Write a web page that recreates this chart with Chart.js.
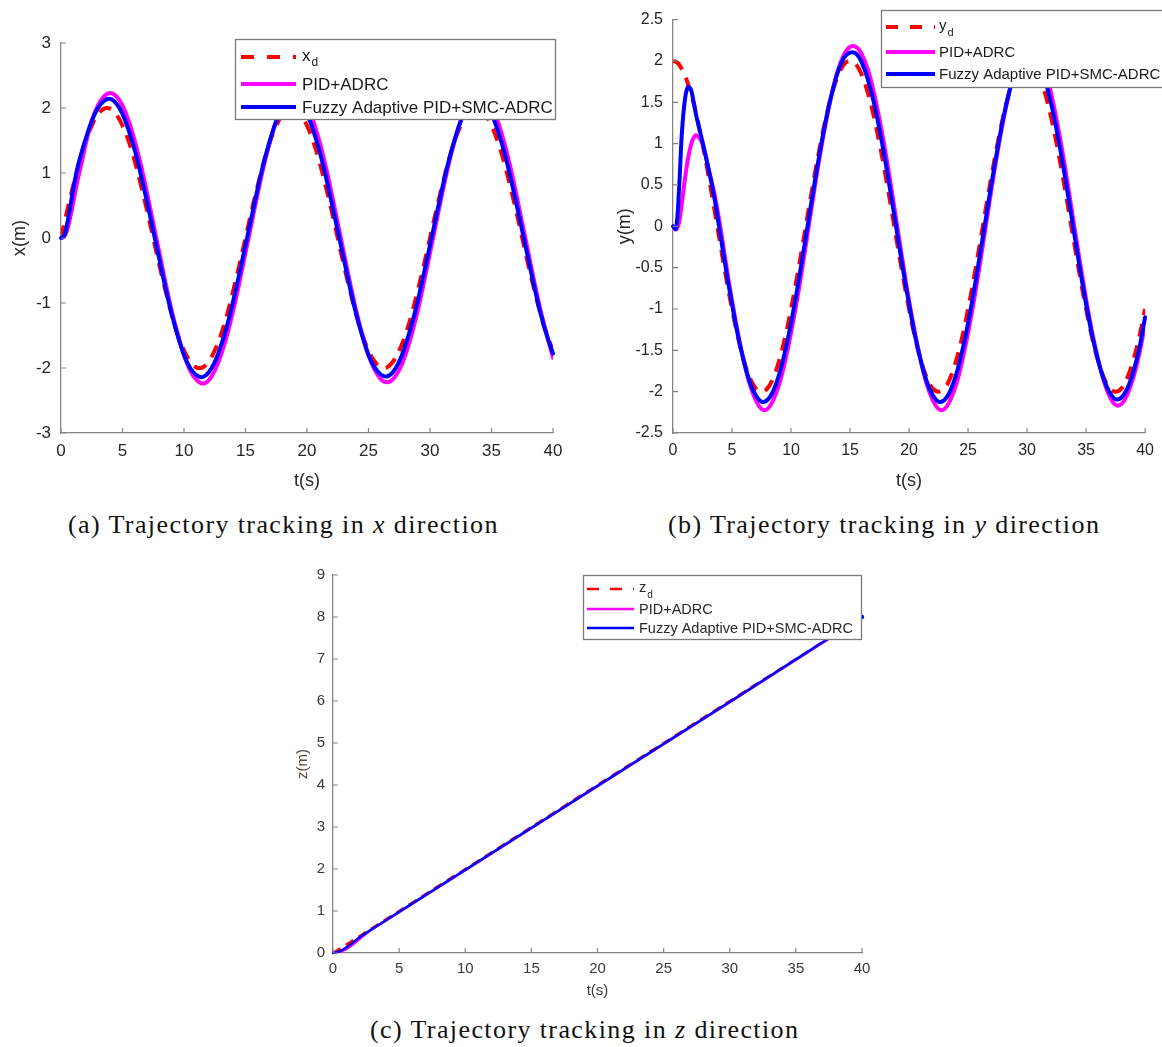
<!DOCTYPE html>
<html><head><meta charset="utf-8">
<script src="https://cdn.jsdelivr.net/npm/chart.js@4.4.0/dist/chart.umd.min.js"></script>
<style>
html,body{margin:0;padding:0;background:#fff;}
body{width:1162px;height:1047px;position:relative;overflow:hidden;}
canvas{position:absolute;display:block;}
.cap{position:absolute;font-family:"Liberation Serif","Times New Roman",serif;font-size:26px;line-height:30px;color:#111;white-space:nowrap;letter-spacing:1.4px;}
</style></head><body>
<canvas id="ca" width="590" height="500" style="left:0;top:0"></canvas>
<canvas id="cb" width="562" height="500" style="left:600px;top:0"></canvas>
<canvas id="cc" width="600" height="460" style="left:290px;top:555px"></canvas>
<div class="cap" style="left:68px;top:510px">(a) Trajectory tracking in <i>x</i> direction</div>
<div class="cap" style="left:668px;top:510px">(b) Trajectory tracking in <i>y</i> direction</div>
<div class="cap" style="left:370px;top:1015px">(c) Trajectory tracking in <i>z</i> direction</div>
<script>
// ---------- data ----------
const T = [0,0.25,0.5,0.75,1,1.25,1.5,1.75,2,
 2.5,3,3.5,4,4.5,5,5.5,6,6.5,7,
 7.5,8,8.5,9,9.5,10,10.5,11,11.5,12,
 12.5,13,13.5,14,14.5,15,15.5,16,16.5,17,
 17.5,18,18.5,19,19.5,20,20.5,21,21.5,22,
 22.5,23,23.5,24,24.5,25,25.5,26,26.5,27,
 27.5,28,28.5,29,29.5,30,30.5,31,31.5,32,
 32.5,33,33.5,34,34.5,35,35.5,36,36.5,37,
 37.5,38,38.5,39,39.5,40];

const xDesired = [0,0.21,0.42,0.62,0.81,1.00,1.18,1.34,1.49,
 1.73,1.90,1.99,1.99,1.90,1.73,1.49,1.18,0.81,0.42,
 0,-0.42,-0.81,-1.18,-1.49,-1.73,-1.90,-1.99,-1.99,-1.90,
 -1.73,-1.49,-1.18,-0.81,-0.42,0,0.42,0.81,1.18,1.49,
 1.73,1.90,1.99,1.99,1.90,1.73,1.49,1.18,0.81,0.42,
 0,-0.42,-0.81,-1.18,-1.49,-1.73,-1.90,-1.99,-1.99,-1.90,
 -1.73,-1.49,-1.18,-0.81,-0.42,0,0.42,0.81,1.18,1.49,
 1.73,1.90,1.99,1.99,1.90,1.73,1.49,1.18,0.81,0.42,
 0,-0.42,-0.81,-1.18,-1.49,-1.73];

const xPID = [0,0.02,0.12,0.32,0.55,0.80,1.02,1.22,1.44,
 1.80,2.04,2.18,2.23,2.18,2.04,1.80,1.49,1.12,0.69,
 0.23,-0.23,-0.69,-1.12,-1.49,-1.80,-2.04,-2.18,-2.24,-2.19,
 -2.04,-1.80,-1.49,-1.12,-0.69,-0.23,0.23,0.69,1.12,1.49,
 1.80,2.04,2.18,2.23,2.18,2.04,1.80,1.49,1.12,0.69,
 0.23,-0.23,-0.69,-1.12,-1.49,-1.80,-2.03,-2.17,-2.22,-2.17,
 -2.03,-1.80,-1.49,-1.12,-0.69,-0.23,0.23,0.69,1.12,1.49,
 1.80,2.04,2.18,2.23,2.18,2.04,1.80,1.49,1.12,0.69,
 0.23,-0.23,-0.69,-1.12,-1.49,-1.84];

const xFuzzy = [0,0.03,0.22,0.48,0.76,1.00,1.20,1.37,1.52,
 1.80,2.00,2.11,2.14,2.07,1.91,1.66,1.35,0.97,0.55,
 0.11,-0.33,-0.77,-1.17,-1.51,-1.80,-2.00,-2.11,-2.14,-2.07,
 -1.91,-1.66,-1.35,-0.97,-0.55,-0.11,0.33,0.77,1.17,1.51,
 1.80,2.00,2.11,2.14,2.07,1.91,1.66,1.35,0.97,0.55,
 0.11,-0.33,-0.77,-1.17,-1.51,-1.80,-1.99,-2.10,-2.13,-2.06,
 -1.90,-1.65,-1.34,-0.97,-0.55,-0.11,0.33,0.77,1.17,1.51,
 1.80,2.00,2.11,2.14,2.07,1.91,1.66,1.35,0.97,0.55,
 0.11,-0.33,-0.77,-1.17,-1.50,-1.78];

const yDesired = [2.00,1.99,1.96,1.90,1.83,1.73,1.62,1.49,1.34,
 1.00,0.62,0.21,-0.21,-0.62,-1.00,-1.34,-1.62,-1.83,-1.96,
 -2.00,-1.96,-1.83,-1.62,-1.34,-1.00,-0.62,-0.21,0.21,0.62,
 1.00,1.34,1.62,1.83,1.96,2.00,1.96,1.83,1.62,1.34,
 1.00,0.62,0.21,-0.21,-0.62,-1.00,-1.34,-1.62,-1.83,-1.96,
 -2.00,-1.96,-1.83,-1.62,-1.34,-1.00,-0.62,-0.21,0.21,0.62,
 1.00,1.34,1.62,1.83,1.96,2.00,1.96,1.83,1.62,1.34,
 1.00,0.62,0.21,-0.21,-0.62,-1.00,-1.34,-1.62,-1.83,-1.96,
 -2.00,-1.96,-1.83,-1.62,-1.34,-1.00];

const yPID = [0,-0.04,0.04,0.28,0.56,0.80,0.97,1.07,1.10,
 1.00,0.70,0.40,0.00,-0.46,-0.90,-1.29,-1.63,-1.91,-2.10,
 -2.21,-2.21,-2.10,-1.91,-1.63,-1.29,-0.90,-0.46,0.00,0.46,
 0.90,1.29,1.63,1.90,2.08,2.17,2.17,2.08,1.90,1.63,
 1.29,0.90,0.46,0.00,-0.46,-0.90,-1.29,-1.63,-1.91,-2.10,
 -2.21,-2.21,-2.10,-1.91,-1.63,-1.29,-0.90,-0.46,0.00,0.46,
 0.90,1.29,1.63,1.90,2.08,2.17,2.17,2.08,1.90,1.63,
 1.29,0.90,0.46,0.00,-0.45,-0.88,-1.27,-1.60,-1.87,-2.06,
 -2.16,-2.15,-2.03,-1.83,-1.55,-1.17];

const yFuzzy = [0,-0.03,0.42,1.12,1.52,1.68,1.66,1.50,1.32,
 1.02,0.70,0.35,-0.09,-0.53,-0.94,-1.32,-1.63,-1.88,-2.04,
 -2.12,-2.10,-1.99,-1.79,-1.51,-1.17,-0.78,-0.35,0.09,0.53,
 0.94,1.32,1.63,1.88,2.04,2.10,2.09,1.98,1.78,1.51,
 1.17,0.78,0.35,-0.09,-0.53,-0.94,-1.32,-1.63,-1.88,-2.04,
 -2.12,-2.10,-1.99,-1.79,-1.51,-1.17,-0.78,-0.35,0.09,0.53,
 0.94,1.32,1.63,1.88,2.04,2.10,2.09,1.98,1.78,1.51,
 1.17,0.78,0.35,-0.09,-0.53,-0.94,-1.31,-1.61,-1.85,-2.01,
 -2.09,-2.07,-1.96,-1.76,-1.48,-1.10];

const TZ = [0,0.5,1,1.5,2,2.5,3,4,5,10,15,20,25,30,35,40];
const zDesired = [0,0.10,0.20,0.30,0.40,0.50,0.60,0.80,1.00,2.00,3.00,4.00,5.00,6.00,7.00,8.00];
const zPID     = [0,0.02,0.09,0.20,0.33,0.46,0.57,0.77,0.97,1.97,2.97,3.97,4.97,5.97,6.98,7.99];
const zFuzzy   = [0,0.04,0.13,0.25,0.37,0.48,0.58,0.78,0.98,1.98,2.98,3.98,4.98,5.98,6.99,8.00];

const seriesLabels = ['PID+ADRC', 'Fuzzy Adaptive PID+SMC-ADRC'];
const xTicksT = [0,5,10,15,20,25,30,35,40];

// ---------- helpers ----------
const FAM = "'Liberation Sans', Arial, sans-serif";
Chart.defaults.font.family = FAM;
const fmt = v => String(Math.round(v * 100) / 100);
const pts = (ts, ys) => ts.map((t, i) => ({x: t, y: ys[i]}));

const decor = {
  id: 'decor',
  afterDatasetsDraw(chart, args, o) {
    const ctx = chart.ctx, xs = chart.scales.x, ys = chart.scales.y;
    ctx.save();
    ctx.strokeStyle = o.axisColor; ctx.lineWidth = o.axisWidth; ctx.setLineDash([]);
    ctx.beginPath();
    for (const t of xs.ticks) { const p = xs.getPixelForValue(t.value); ctx.moveTo(p, ys.bottom); ctx.lineTo(p, ys.bottom - o.tickLen); }
    for (const t of ys.ticks) { const p = ys.getPixelForValue(t.value); ctx.moveTo(xs.left, p); ctx.lineTo(xs.left + o.tickLen, p); }
    ctx.stroke();
    const L = o.legend;
    ctx.fillStyle = '#fff';
    ctx.fillRect(L.x1, L.y1, L.x2 - L.x1, L.y2 - L.y1);
    ctx.strokeStyle = L.border; ctx.lineWidth = 1.3;
    ctx.strokeRect(L.x1 + .5, L.y1 + .5, L.x2 - L.x1, L.y2 - L.y1);
    chart.data.datasets.forEach((ds, i) => {
      const y = L.rows[i];
      ctx.beginPath();
      ctx.strokeStyle = ds.borderColor; ctx.lineWidth = L.lw;
      ctx.setLineDash(ds.borderDash && ds.borderDash.length ? L.dash : []);
      ctx.lineCap = 'butt';
      ctx.moveTo(L.sx1, y); ctx.lineTo(L.sx2, y); ctx.stroke();
      ctx.setLineDash([]);
      ctx.fillStyle = L.color; ctx.textBaseline = 'middle'; ctx.textAlign = 'left';
      const parts = ds.label.split('_');
      ctx.font = L.font + 'px ' + FAM;
      ctx.fillText(parts[0], L.tx, y + L.dy - (parts[1] ? 2 : 0));
      if (parts[1]) {
        const w = ctx.measureText(parts[0]).width;
        ctx.font = Math.round(L.font * 0.72) + 'px ' + FAM;
        ctx.fillText(parts[1], L.tx + w + 1, y + L.dy + 5);
      }
    });
    ctx.restore();
  }
};

function makeChart(id, o) {
  const ds = [
    {label: o.dLabel, data: pts(o.t, o.d), borderColor: '#ff0000', borderDash: o.dash, borderWidth: o.lw, order: 3, borderCapStyle: 'butt'},
    {label: seriesLabels[0], data: pts(o.t, o.p), borderColor: '#ff00ff', borderWidth: o.lw, order: 2, borderCapStyle: 'round'},
    {label: seriesLabels[1], data: pts(o.t, o.f), borderColor: '#0000ff', borderWidth: o.lw, order: 1, borderCapStyle: 'round',
      pointRadius: o.endDot ? (c => c.dataIndex === o.t.length - 1 ? 2.2 : 0) : 0, pointBackgroundColor: '#0000ff', pointBorderWidth: 0, clip: 6}
  ];
  ds.forEach(d => { d.fill = false; d.tension = o.tension; d.borderJoinStyle = 'round'; if (d.pointRadius === undefined) d.pointRadius = 0; });
  return new Chart(document.getElementById(id), {
    type: 'line',
    data: {datasets: ds},
    plugins: [decor],
    options: {
      responsive: false, animation: false, events: [],
      layout: {padding: o.pad},
      plugins: {legend: {display: false}, tooltip: {enabled: false},
        decor: {axisColor: '#858585', axisWidth: 1.2, tickLen: o.tickLen, legend: o.legend}},
      scales: {
        x: {type: 'linear', min: 0, max: 40,
          afterBuildTicks: s => { s.ticks = xTicksT.map(v => ({value: v})); },
          afterFit: s => { s.height = o.xh; },
          grid: {display: false, drawTicks: false},
          border: {display: true, color: '#858585', width: 1.3},
          ticks: {autoSkip: false, maxRotation: 0, padding: o.xtp, color: o.tc, font: {size: o.tf}, callback: fmt},
          title: {display: true, text: 't(s)', color: o.tc, font: {size: o.ttf}, padding: {top: 0, bottom: o.xtitlePad}}},
        y: {type: 'linear', min: o.ymin, max: o.ymax,
          afterBuildTicks: s => { s.ticks = o.yt.map(v => ({value: v})); },
          afterFit: s => { s.width = o.yw; },
          grid: {display: false, drawTicks: false},
          border: {display: true, color: '#858585', width: 1.3},
          ticks: {autoSkip: false, padding: o.ytp, color: o.tc, font: {size: o.tf}, callback: fmt},
          title: {display: true, text: o.ytitle, color: o.ytc || o.tc, font: {size: o.ttf}, padding: {top: o.ytitlePad, bottom: 0}}}
      }
    }
  });
}

const xTicksA = [-3,-2,-1,0,1,2,3];
const yTicksB = [-2.5,-2,-1.5,-1,-0.5,0,0.5,1,1.5,2,2.5];
const zTicksC = [0,1,2,3,4,5,6,7,8,9];

makeChart('ca', {t: T, d: xDesired, p: xPID, f: xFuzzy, dLabel: 'x_d', dash: [13, 9], lw: 4, tension: 0.4,
  pad: {left: 0, top: 43, right: 37, bottom: 7}, xh: 60, yw: 61, ymin: -3, ymax: 3, yt: xTicksA,
  tc: '#262626', tf: 17, ttf: 18, xtp: 8, ytp: 10, xtitlePad: 1, ytitlePad: 9, ytitle: 'x(m)', tickLen: 5,
  legend: {x1: 235, y1: 39, x2: 555, y2: 119, sx1: 241, sx2: 296, tx: 302, rows: [57, 84, 107], font: 17, lw: 4, dash: [13, 13], color: '#1a1a1a', border: '#7a7a7a', dy: 1}});

makeChart('cb', {t: T, d: yDesired, p: yPID, f: yFuzzy, dLabel: 'y_d', dash: [13, 9], lw: 4, tension: 0.4,
  pad: {left: 0, top: 12, right: 11, bottom: 7}, xh: 60, yw: 73, ymin: -2.5, ymax: 2.5, yt: yTicksB,
  tc: '#262626', tf: 16, ttf: 18, xtp: 8, ytp: 10, xtitlePad: 1, ytitlePad: 14, ytitle: 'y(m)', tickLen: 5,
  legend: {x1: 281, y1: 10, x2: 575, y2: 87, sx1: 286, sx2: 335, tx: 339, rows: [27, 52, 74], font: 15, lw: 4, dash: [12, 12], color: '#1a1a1a', border: '#7a7a7a', dy: 1}});

makeChart('cc', {t: TZ, d: zDesired, p: zPID, f: zFuzzy, dLabel: 'z_d', dash: [9, 6], lw: 2.5, tension: 0.3, endDot: true,
  pad: {left: 0, top: 20, right: 28, bottom: 12}, xh: 50, yw: 43, ymin: 0, ymax: 9, yt: zTicksC,
  tc: '#3a3a3a', ytc: '#5a4a40', tf: 15, ttf: 15, xtp: 7, ytp: 8, xtitlePad: 3, ytitlePad: 4, ytitle: 'z(m)', tickLen: 5,
  legend: {x1: 293, y1: 20, x2: 571, y2: 84, sx1: 297, sx2: 344, tx: 349, rows: [34, 54, 73], font: 14.5, lw: 2.5, dash: [12, 11], color: '#2a2a2a', border: '#7a7a7a', dy: 1}});
</script>
</body></html>
